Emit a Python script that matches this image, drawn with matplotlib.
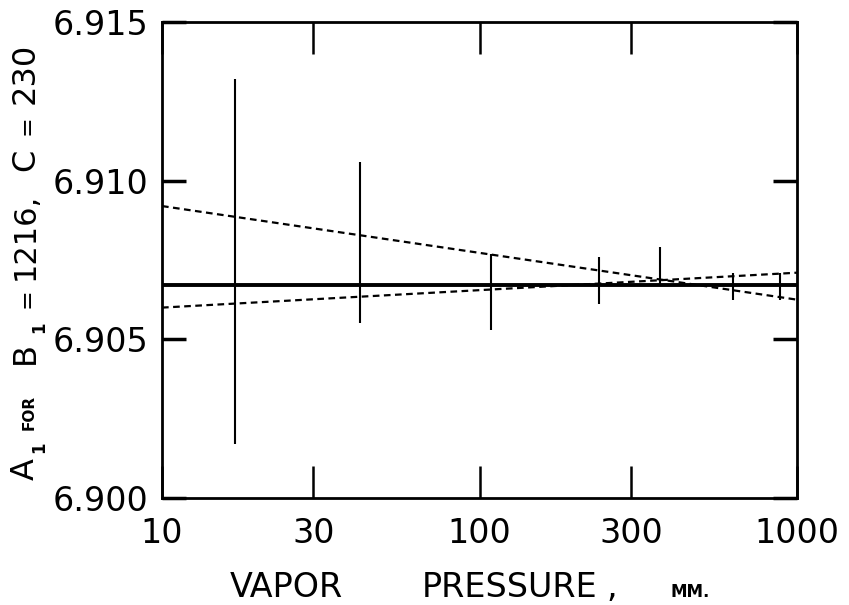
import matplotlib
matplotlib.use("Agg")
import matplotlib.pyplot as plt
from matplotlib.ticker import NullLocator
from matplotlib.transforms import IdentityTransform

# Data
pressure = [17, 42, 109, 238, 369, 629, 881]
a_high = [6.9132, 6.9106, 6.9077, 6.9076, 6.9079, 6.9071, 6.9071]
a_low = [6.9017, 6.9055, 6.9053, 6.9061, 6.9067, 6.90625, 6.90625]

a_best = 6.9067
line_x = [10, 1000]
upper_dash = [6.9092, 6.90625]
lower_dash = [6.9060, 6.9071]

x_ticks = [10, 30, 100, 300, 1000]
x_ticklabels = ["10", "30", "100", "300", "1000"]
y_ticks = [6.900, 6.905, 6.910, 6.915]
y_ticklabels = ["6.900", "6.905", "6.910", "6.915"]

W, H = 849, 605
fig = plt.figure(figsize=(W / 100, H / 100), dpi=100)
ax = fig.add_axes([162 / W, 1 - 498 / H, (797 - 162) / W, (498 - 22) / H])

# error bars and lines
ax.vlines(pressure, a_low, a_high, color="black", lw=1.5)
ax.plot(line_x, [a_best, a_best], color="black", lw=2.8, solid_capstyle="butt")
ax.plot(line_x, upper_dash, color="black", lw=1.6, dashes=(3, 2))
ax.plot(line_x, lower_dash, color="black", lw=1.6, dashes=(3, 2))

ax.set_xscale("log")
ax.set_xlim(10, 1000)
ax.set_ylim(6.900, 6.915)
ax.set_xticks(x_ticks, labels=x_ticklabels)
ax.xaxis.set_minor_locator(NullLocator())
ax.set_yticks(y_ticks, labels=y_ticklabels)

for s in ax.spines.values():
    s.set_linewidth(2)

ax.tick_params(axis="x", direction="in", length=23, width=1.8, top=True,
               labelsize=24, pad=14)
ax.tick_params(axis="y", direction="in", length=17, width=2.5, right=True,
               labelsize=24, pad=10)

px = IdentityTransform()

# y label pieces: text, size, start (pixels from top), shift, weight
ylabel_pieces = [
    ("A", 23, 480, 0, "normal"),
    ("1", 12, 453, 10, "bold"),
    ("FOR", 11, 430, 0, "bold"),
    ("B", 23, 364, 0, "normal"),
    ("1", 12, 333, 10, "bold"),
    ("=", 17, 308, 0, "normal"),
    ("1216,", 22, 280, 0, "normal"),
    ("C", 23, 171, 0, "normal"),
    ("=", 17, 135, 0, "normal"),
    ("230", 23, 104, 0, "normal"),
]
for text, size, start, shift, weight in ylabel_pieces:
    fig.text(34 + shift, H - start, text, rotation=90, rotation_mode="anchor",
             ha="left", va="baseline", fontsize=size, fontweight=weight,
             transform=px)

# x label pieces
base = H - 597
fig.text(230, base, "VAPOR", fontsize=24, ha="left", va="baseline", transform=px)
fig.text(422, base, "PRESSURE", fontsize=24, ha="left", va="baseline", transform=px)
fig.text(606, base, ",", fontsize=24, ha="left", va="baseline", transform=px)
fig.text(670, base, "MM.", fontsize=12, fontweight="bold", ha="left",
         va="baseline", transform=px)

fig.savefig("out.png", dpi=100)
